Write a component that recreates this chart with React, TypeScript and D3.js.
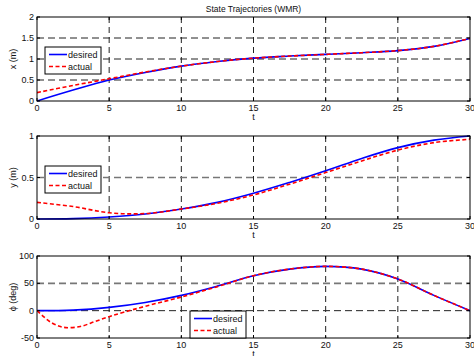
import React from 'react';
import * as d3 from 'd3';

const tDes = [0, 2.5, 5, 7.5, 10, 12.5, 15, 17.5, 20, 22.5, 25, 27.5, 30];
const xDesired = [0, 0.26, 0.5, 0.68, 0.83, 0.94, 1.02, 1.07, 1.11, 1.15, 1.2, 1.3, 1.49];
const xActual = [0.2, 0.37, 0.53, 0.69, 0.83, 0.94, 1.02, 1.07, 1.11, 1.15, 1.2, 1.3, 1.49];
const yDesired = [0, 0.005, 0.025, 0.06, 0.12, 0.2, 0.31, 0.44, 0.58, 0.73, 0.86, 0.95, 1.0];
const yActual = [0.2, 0.15, 0.075, 0.065, 0.12, 0.19, 0.29, 0.42, 0.56, 0.7, 0.83, 0.92, 0.96];
const phiDesired = [0, 1, 6, 15, 28, 45, 64, 76, 81, 76, 58, 28, 0];
const tPhiAct = [0, 0.5, 1, 1.5, 2, 3, 4, 5, 6, 7.5, 10, 12.5, 15, 17.5, 20, 22.5, 25, 27.5, 30];
const phiActual = [0, -12, -22, -28, -31, -29, -20, -11, -3, 8, 25, 44, 64, 76, 81, 76, 58, 28, 0];

const xTicks = [0, 5, 10, 15, 20, 25, 30];
const panels = [
  { label: 'x (m)', top: 17, bottom: 101, domain: [0, 2], ticks: [0, 0.5, 1, 1.5, 2], grayTicks: [] as number[],
    des: xDesired, act: xActual, tAct: tDes, legend: { x: 45, y: 47 } },
  { label: 'y (m)', top: 136, bottom: 219, domain: [0, 1], ticks: [0, 0.5, 1], grayTicks: [0.5],
    des: yDesired, act: yActual, tAct: tDes, legend: { x: 45, y: 166 } },
  { label: 'ϕ (deg)', top: 256, bottom: 338, domain: [-50, 100], ticks: [-50, 0, 50, 100], grayTicks: [50],
    des: phiDesired, act: phiActual, tAct: tPhiAct, legend: { x: 190, y: 311 } },
];

const LEFT = 37;
const RIGHT = 470;
const FONT = 'Liberation Sans, Arial, Helvetica, sans-serif';

export default function App() {
  const xs = d3.scaleLinear().domain([0, 30]).range([LEFT, RIGHT]);
  return (
    <svg width={474} height={356} style={{ position: 'absolute', left: 0, top: 0, background: '#fff' }}>
      <rect x={0} y={0} width={474} height={356} fill="#fff" />
      <text x={(LEFT + RIGHT) / 2} y={12} fontSize={8.5} fontFamily={FONT} textAnchor="middle" fill="#111">
        State Trajectories (WMR)
      </text>
      {panels.map((p, i) => {
        const ys = d3.scaleLinear().domain(p.domain).range([p.bottom, p.top]);
        const line = d3.line<number>().curve(d3.curveCatmullRom.alpha(0.5));
        const desPts = tDes.map((t, k) => [xs(t), ys(p.des[k])] as [number, number]);
        const actPts = p.tAct.map((t, k) => [xs(t), ys(p.act[k])] as [number, number]);
        const lineFn = d3.line().curve(d3.curveCatmullRom.alpha(0.5));
        const cy = (p.top + p.bottom) / 2;
        return (
          <g key={i}>
            <defs>
              <clipPath id={`clip${i}`}>
                <rect x={LEFT} y={p.top - 1} width={RIGHT - LEFT} height={p.bottom - p.top + 2} />
              </clipPath>
            </defs>
            {xTicks.slice(1, -1).map((t) => (
              <line key={'v' + t} x1={xs(t)} x2={xs(t)} y1={p.top} y2={p.bottom}
                stroke="#222" strokeWidth={1} strokeDasharray="6,4" />
            ))}
            {p.ticks.slice(1, -1).map((v) => {
              const gray = p.grayTicks.includes(v);
              return (
                <line key={'h' + v} x1={LEFT} x2={RIGHT} y1={ys(v)} y2={ys(v)}
                  stroke={gray ? '#777' : '#222'} strokeWidth={gray ? 1.6 : 1} strokeDasharray="7,4" />
              );
            })}
            <g clipPath={`url(#clip${i})`}>
              <path d={lineFn(desPts) || ''} fill="none" stroke="#0000ff" strokeWidth={1.6} />
              <path d={lineFn(actPts) || ''} fill="none" stroke="#ff0000" strokeWidth={1.6} strokeDasharray="4,2.5" />
            </g>
            <rect x={LEFT} y={p.top} width={RIGHT - LEFT} height={p.bottom - p.top} fill="none" stroke="#000" strokeWidth={1} />
            {xTicks.map((t) => (
              <g key={'xt' + t}>
                <line x1={xs(t)} x2={xs(t)} y1={p.bottom} y2={p.bottom - 3} stroke="#000" />
                <line x1={xs(t)} x2={xs(t)} y1={p.top} y2={p.top + 3} stroke="#000" />
                <text x={xs(t)} y={p.bottom + 10} fontSize={9} fontFamily={FONT} textAnchor="middle" fill="#111">{t}</text>
              </g>
            ))}
            {p.ticks.map((v) => (
              <g key={'yt' + v}>
                <line x1={LEFT} x2={LEFT + 3} y1={ys(v)} y2={ys(v)} stroke="#000" />
                <line x1={RIGHT} x2={RIGHT - 3} y1={ys(v)} y2={ys(v)} stroke="#000" />
                <text x={LEFT - 3} y={ys(v) + 3} fontSize={9} fontFamily={FONT} textAnchor="end" fill="#111">{v}</text>
              </g>
            ))}
            <text x={xs(15)} y={p.bottom + 19} fontSize={9} fontFamily={FONT} textAnchor="middle" fill="#111">t</text>
            <text transform={`translate(16,${cy}) rotate(-90)`} fontSize={9} fontFamily={FONT} textAnchor="middle" fill="#111">
              {p.label}
            </text>
            <g transform={`translate(${p.legend.x},${p.legend.y})`}>
              <rect x={0} y={0} width={56} height={27} fill="#fff" stroke="#000" strokeWidth={1} />
              <line x1={4} x2={22} y1={7.5} y2={7.5} stroke="#0000ff" strokeWidth={1.6} />
              <text x={23} y={10.5} fontSize={9} fontFamily={FONT} fill="#111">desired</text>
              <line x1={4} x2={22} y1={19.5} y2={19.5} stroke="#ff0000" strokeWidth={1.6} strokeDasharray="4,2.5" />
              <text x={23} y={22.5} fontSize={9} fontFamily={FONT} fill="#111">actual</text>
            </g>
          </g>
        );
      })}
    </svg>
  );
}
